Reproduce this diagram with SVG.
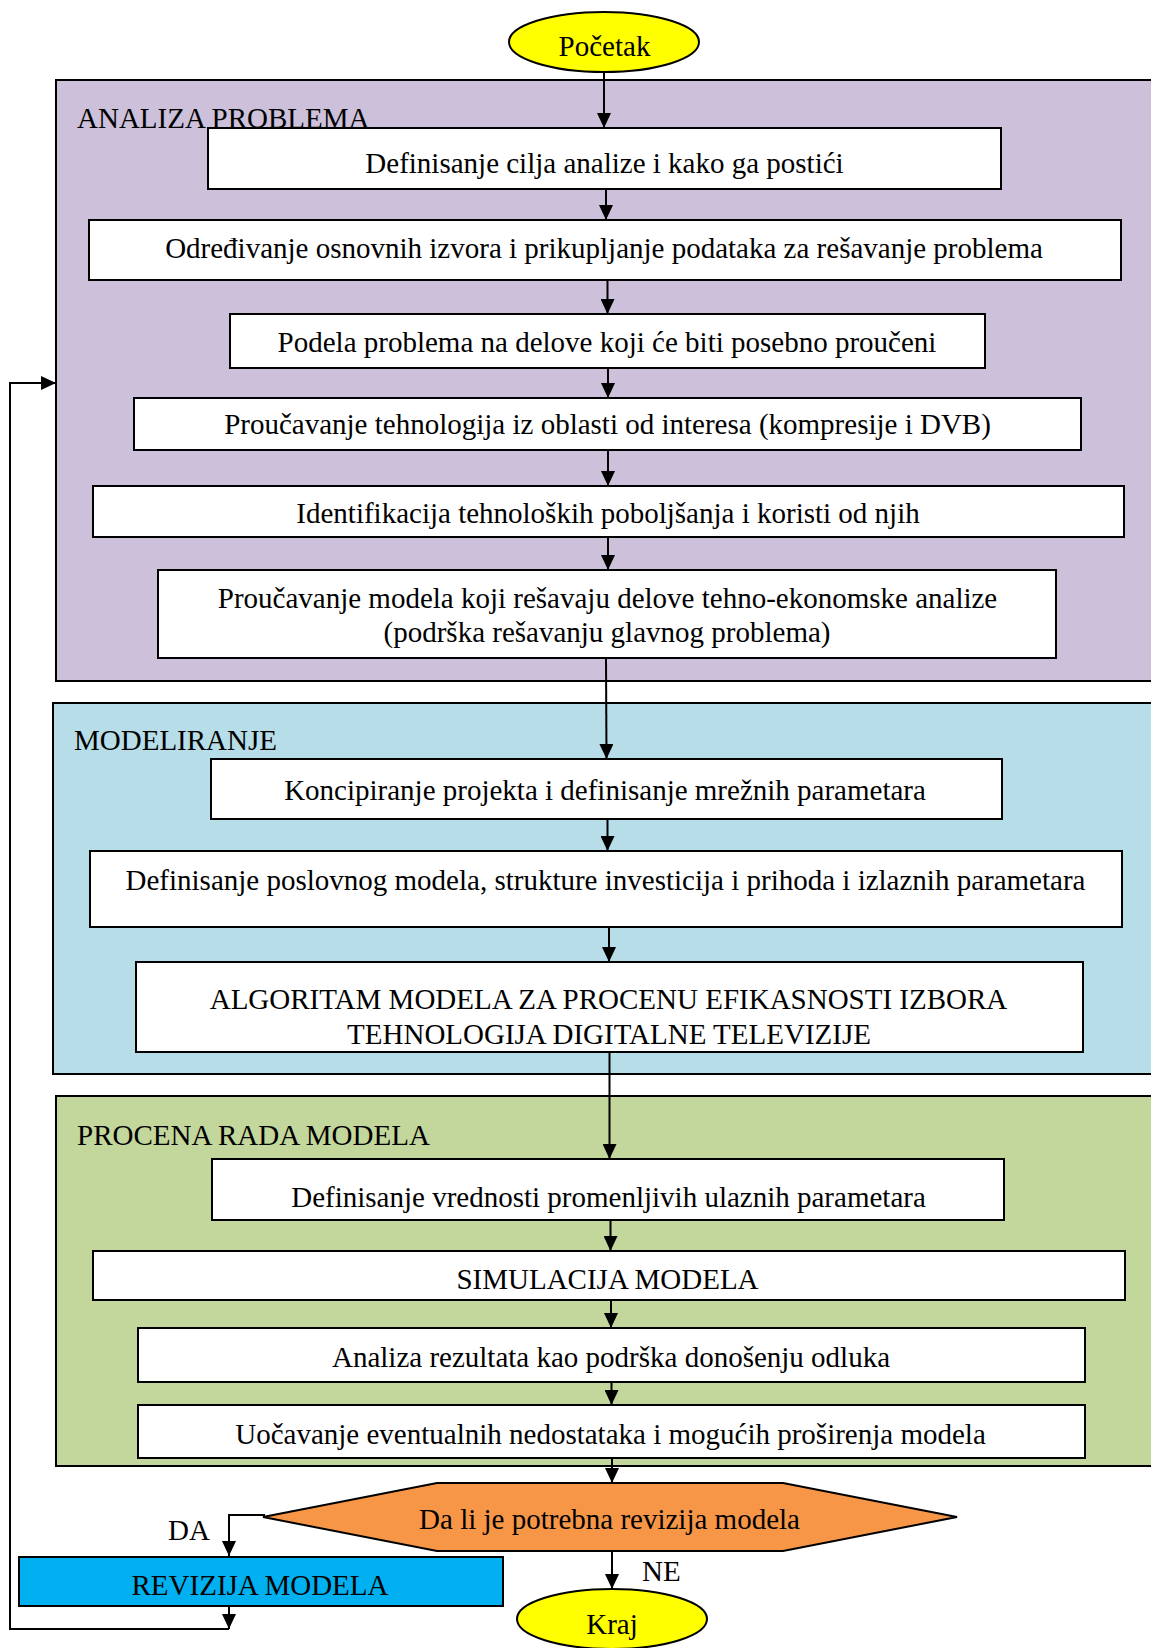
<svg xmlns="http://www.w3.org/2000/svg" width="1151" height="1648" viewBox="0 0 1151 1648">
<style>
text{font-family:"Liberation Serif","Times New Roman",serif;font-size:29px;fill:#000}
.c{text-anchor:middle}
.box{fill:#fff;stroke:#000;stroke-width:2}
.cont{stroke:#000;stroke-width:2}
.conn{fill:none;stroke:#000;stroke-width:2}
</style>
<defs>
<marker id="ah" markerUnits="userSpaceOnUse" markerWidth="15" markerHeight="14" refX="15" refY="7" orient="auto">
<path d="M0,0 L15,7 L0,14 z" fill="#000"/>
</marker>
</defs>
<rect width="1151" height="1648" fill="#fff"/>

<g id="group-analiza">
<rect class="cont" x="56" y="80" width="1110" height="601" fill="#CCC0DA"/>
<text x="77" y="128">ANALIZA PROBLEMA</text>
</g>
<g id="group-modeliranje">
<rect class="cont" x="53" y="703" width="1113" height="371" fill="#B7DDE8"/>
<text x="74" y="750">MODELIRANJE</text>
</g>
<g id="group-procena">
<rect class="cont" x="56" y="1096" width="1110" height="370" fill="#C3D69B"/>
<text x="77" y="1145">PROCENA RADA MODELA</text>
</g>

<g id="connectors">
<line class="conn" x1="604" y1="70" x2="604" y2="128" marker-end="url(#ah)"/>
<line class="conn" x1="606" y1="189" x2="606" y2="220" marker-end="url(#ah)"/>
<line class="conn" x1="607.5" y1="280" x2="607.5" y2="314" marker-end="url(#ah)"/>
<line class="conn" x1="608" y1="368" x2="608" y2="398" marker-end="url(#ah)"/>
<line class="conn" x1="608" y1="450" x2="608" y2="486" marker-end="url(#ah)"/>
<line class="conn" x1="608" y1="537" x2="608" y2="570" marker-end="url(#ah)"/>
<line class="conn" x1="606" y1="658" x2="606.5" y2="759" marker-end="url(#ah)"/>
<line class="conn" x1="607.5" y1="819" x2="607.5" y2="851" marker-end="url(#ah)"/>
<line class="conn" x1="609" y1="927" x2="609" y2="962" marker-end="url(#ah)"/>
<line class="conn" x1="609.5" y1="1052" x2="609.5" y2="1159" marker-end="url(#ah)"/>
<line class="conn" x1="610.5" y1="1220" x2="610.5" y2="1251" marker-end="url(#ah)"/>
<line class="conn" x1="611" y1="1300" x2="611" y2="1328" marker-end="url(#ah)"/>
<line class="conn" x1="611.5" y1="1382" x2="611.5" y2="1405" marker-end="url(#ah)"/>
<line class="conn" x1="612" y1="1458" x2="612" y2="1483" marker-end="url(#ah)"/>
<line class="conn" x1="612" y1="1545" x2="612" y2="1589" marker-end="url(#ah)"/>
<path class="conn" d="M265,1515 H229 V1556" marker-end="url(#ah)"/>
<line class="conn" x1="229" y1="1606" x2="229" y2="1629" marker-end="url(#ah)"/>
<path class="conn" d="M229,1629 H10 V383 H56" marker-end="url(#ah)"/>
<text x="642" y="1581">NE</text>
<text x="168" y="1540">DA</text>
</g>

<g id="node-pocetak">
<ellipse cx="604" cy="42" rx="95" ry="30" fill="#FFFF00" stroke="#000" stroke-width="2"/>
<text class="c" x="604.5" y="56">Početak</text>
</g>
<g id="node-1">
<rect class="box" x="208" y="128" width="793" height="61"/>
<text class="c" x="604.5" y="173">Definisanje cilja analize i kako ga postići</text>
</g>
<g id="node-2">
<rect class="box" x="89" y="220" width="1032" height="60"/>
<text class="c" x="604" y="258">Određivanje osnovnih izvora i prikupljanje podataka za rešavanje problema</text>
</g>
<g id="node-3">
<rect class="box" x="230" y="314" width="755" height="54"/>
<text class="c" x="607" y="352">Podela problema na delove koji će biti posebno proučeni</text>
</g>
<g id="node-4">
<rect class="box" x="134" y="398" width="947" height="52"/>
<text class="c" x="607.5" y="434">Proučavanje tehnologija iz oblasti od interesa (kompresije i DVB)</text>
</g>
<g id="node-5">
<rect class="box" x="93" y="486" width="1031" height="51"/>
<text class="c" x="608" y="523">Identifikacija tehnoloških poboljšanja i koristi od njih</text>
</g>
<g id="node-6">
<rect class="box" x="158" y="570" width="898" height="88"/>
<text class="c" x="607.5" y="608">Proučavanje modela koji rešavaju delove tehno-ekonomske analize</text>
<text class="c" x="607" y="642">(podrška rešavanju glavnog problema)</text>
</g>
<g id="node-7">
<rect class="box" x="211" y="759" width="791" height="60"/>
<text class="c" x="605" y="800">Koncipiranje projekta i definisanje mrežnih parametara</text>
</g>
<g id="node-8">
<rect class="box" x="90" y="851" width="1032" height="76"/>
<text class="c" x="605.5" y="890">Definisanje poslovnog modela, strukture investicija i prihoda i izlaznih parametara</text>
</g>
<g id="node-9">
<rect class="box" x="136" y="962" width="947" height="90"/>
<text class="c" x="608.5" y="1009">ALGORITAM MODELA ZA PROCENU EFIKASNOSTI IZBORA</text>
<text class="c" x="609" y="1044">TEHNOLOGIJA DIGITALNE TELEVIZIJE</text>
</g>
<g id="node-10">
<rect class="box" x="212" y="1159" width="792" height="61"/>
<text class="c" x="608.5" y="1207">Definisanje vrednosti promenljivih ulaznih parametara</text>
</g>
<g id="node-11">
<rect class="box" x="93" y="1251" width="1032" height="49"/>
<text class="c" x="607.5" y="1289">SIMULACIJA MODELA</text>
</g>
<g id="node-12">
<rect class="box" x="138" y="1328" width="947" height="54"/>
<text class="c" x="611" y="1367">Analiza rezultata kao podrška donošenju odluka</text>
</g>
<g id="node-13">
<rect class="box" x="138" y="1405" width="947" height="53"/>
<text class="c" x="610.5" y="1444">Uočavanje eventualnih nedostataka i mogućih proširenja modela</text>
</g>
<g id="node-decision">
<polygon points="263,1517 437,1483 783,1483 957,1517 783,1551 437,1551" fill="#F79646" stroke="#000" stroke-width="2"/>
<text class="c" x="609.5" y="1529">Da li je potrebna revizija modela</text>
</g>
<g id="node-revizija">
<rect x="19" y="1557" width="484" height="49" fill="#00B0F0" stroke="#000" stroke-width="2"/>
<text class="c" x="260" y="1595">REVIZIJA MODELA</text>
</g>
<g id="node-kraj">
<ellipse cx="612" cy="1619" rx="95" ry="30" fill="#FFFF00" stroke="#000" stroke-width="2"/>
<text class="c" x="612" y="1634">Kraj</text>
</g>
</svg>
